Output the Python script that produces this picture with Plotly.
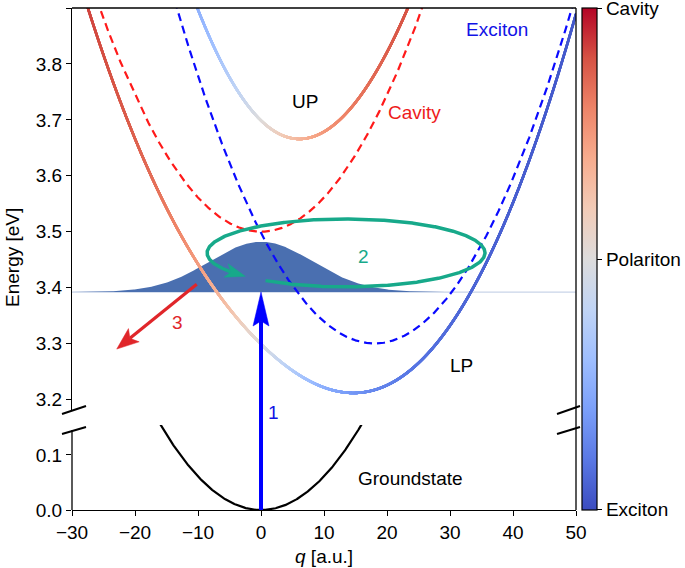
import numpy as np
import plotly.graph_objects as go

# ---------------- data ----------------
Q_MIN, Q_MAX = -30, 50
x_ticks = [-30, -20, -10, 0, 10, 20, 30, 40, 50]
y_up_ticks = [3.2, 3.3, 3.4, 3.5, 3.6, 3.7, 3.8, 3.9]
y_low_ticks = [0.0, 0.1]
Y_UP_MIN, Y_UP_MAX = 3.181, 3.9001
Y_LOW_MAX = 0.1545

# dispersion model parameters
cavity_min_q, cavity_min_E = 0.0, 3.50
exciton_min_q, exciton_min_E = 18.0, 3.30
curvature = 0.00061          # eV per q^2
coupling_g = 0.20            # eV
ground_q_span = [-16, 16]

# wave packet
packet_center, packet_sigma, packet_amp, packet_base = 0.0, 8.2, 0.09, 3.392

# colour bar
cbar_vals = [0, 0.5, 1]
cbar_text = ["Exciton", "Polariton", "Cavity"]

# annotation geometry (data units)
arrow1 = dict(q0=0.0, E0=0.0, q1=0.0, E1=3.392)       # lower -> upper axis
arrow3 = dict(q0=-10.2, E0=3.406, q1=-22.9, E1=3.29)
ellipse = dict(qc=13.5, Ec=3.462, a=22.06, b=0.0608, t0=234.6, t_tip=583.5)

# ---------------- layout constants (pixels) ----------------
W, H = 685, 568
L, R, T, B = 72, 576, 8, 510
UP_BOTTOM, LOW_TOP = 410, 425
FONT = "Liberation Sans, Arial, Helvetica, sans-serif"
FS = 19

def px(xp): return (xp - L) / (R - L)
def py(yp): return (B - yp) / (B - T)
def X(q): return L + (q - Q_MIN) / (Q_MAX - Q_MIN) * (R - L)
def YU(E): return T + (Y_UP_MAX - E) / (Y_UP_MAX - Y_UP_MIN) * (UP_BOTTOM - T)
def YL(E): return B - E / Y_LOW_MAX * (B - LOW_TOP)

CW = [[0.0, "#3b4cc0"], [0.1, "#5a78e4"], [0.2, "#7b9ff9"], [0.3, "#9ebeff"],
      [0.4, "#c0d4f5"], [0.5, "#dddcdc"], [0.6, "#f2cbb7"], [0.7, "#f7ac8e"],
      [0.8, "#ee8468"], [0.9, "#d65244"], [1.0, "#b40426"]]

q = np.linspace(Q_MIN, Q_MAX, 5000)
Ec = cavity_min_E + curvature * (q - cavity_min_q) ** 2
Ex = exciton_min_E + curvature * (q - exciton_min_q) ** 2
mean = (Ec + Ex) / 2
half = np.sqrt(coupling_g ** 2 + ((Ec - Ex) / 2) ** 2)
E_up = mean + half
E_lp = mean - half
delta = Ex - Ec
frac_lp = 0.5 * (1 + delta / np.sqrt(delta ** 2 + 4 * coupling_g ** 2))
frac_up = 1 - frac_lp

fig = go.Figure()
up_kw = dict(xaxis="x", yaxis="y2", hoverinfo="skip", showlegend=False)

# packet base line + filled gaussian
fig.add_trace(go.Scatter(x=[Q_MIN, Q_MAX], y=[packet_base, packet_base], mode="lines",
                         line=dict(color="#c9d4e8", width=1.2), **up_kw))
qp = np.linspace(Q_MIN, 40, 600)
gp = packet_base + packet_amp * np.exp(-(qp - packet_center) ** 2 / (2 * packet_sigma ** 2))
fig.add_trace(go.Scatter(x=np.concatenate([qp, qp[::-1]]),
                         y=np.concatenate([gp, np.full_like(qp, packet_base)]),
                         mode="lines", fill="toself", fillcolor="#4a6fb0",
                         line=dict(width=0), **up_kw))

# bare modes
fig.add_trace(go.Scatter(x=q, y=Ec, mode="lines",
                         line=dict(color="#ff1a1a", width=2.2, dash="8px,5px"), **up_kw))
fig.add_trace(go.Scatter(x=q, y=Ex, mode="lines",
                         line=dict(color="#0a0aff", width=2.2, dash="8px,5px"), **up_kw))

# polariton branches coloured by cavity fraction
for E, fr, show in [(E_up, frac_up, False), (E_lp, frac_lp, True)]:
    m = E <= Y_UP_MAX + 0.01
    mk = dict(size=2.6, color=fr[m], colorscale=CW, cmin=-0.0005, cmax=1.0005,
              line=dict(width=0))
    if show:
        mk.update(showscale=True, colorbar=dict(
            x=px(582), xanchor="left", xpad=0, ypad=0, y=0.5, yanchor="middle",
            len=1, lenmode="fraction", thickness=15, thicknessmode="pixels",
            outlinecolor="black", outlinewidth=1.2, tickvals=cbar_vals, ticktext=cbar_text,
            ticks="outside", ticklen=5, tickwidth=1.2, tickcolor="black",
            ticklabeloverflow="allow",
            tickfont=dict(family=FONT, size=FS, color="black")))
    fig.add_trace(go.Scatter(x=q[m], y=E[m], mode="markers", marker=mk, **up_kw))

# ground state
qg = np.linspace(ground_q_span[0], ground_q_span[1], 300)
fig.add_trace(go.Scatter(x=qg, y=curvature * qg ** 2, mode="lines",
                         line=dict(color="black", width=2.2), xaxis="x", yaxis="y",
                         hoverinfo="skip", showlegend=False))

shapes = []
def seg(x0, y0, x1, y1, color="black", width=1.3):
    shapes.append(dict(type="line", xref="paper", yref="paper", x0=px(x0), y0=py(y0),
                       x1=px(x1), y1=py(y1), line=dict(color=color, width=width)))

def head(tx, ty, ux, uy, color, hl, hw, notch):
    nx, ny = -uy, ux
    bx, by = tx - hl * ux, ty - hl * uy
    mx, my = tx - (hl - notch) * ux, ty - (hl - notch) * uy
    pts = [(tx, ty), (bx + hw * nx, by + hw * ny), (mx, my), (bx - hw * nx, by - hw * ny)]
    path = "M " + " L ".join(f"{px(a):.5f},{py(b):.5f}" for a, b in pts) + " Z"
    shapes.append(dict(type="path", xref="paper", yref="paper", path=path,
                       fillcolor=color, line=dict(color=color, width=0.5)))

def arrow(x0, y0, x1, y1, color, width, hl, hw, notch):
    d = np.hypot(x1 - x0, y1 - y0)
    ux, uy = (x1 - x0) / d, (y1 - y0) / d
    seg(x0, y0, x1 - (hl - notch) * ux, y1 - (hl - notch) * uy, color, width)
    head(x1, y1, ux, uy, color, hl, hw, notch)

# ellipse (process 2)
TEAL = "#17a98a"
tt = np.radians(np.linspace(ellipse["t0"], ellipse["t_tip"], 800))
exq = ellipse["qc"] + ellipse["a"] * np.cos(tt)
exE = ellipse["Ec"] + ellipse["b"] * np.sin(tt)
pxs, pys = np.array([X(v) for v in exq]), np.array([YU(v) for v in exE])
tipx, tipy = pxs[-1], pys[-1]
dist = np.hypot(pxs - tipx, pys - tipy)
HL2, HW2, N2 = 20, 7, 5
cut = np.where(dist > HL2 - N2)[0][-1]
fig.add_trace(go.Scatter(x=exq[:cut + 1], y=exE[:cut + 1], mode="lines",
                         line=dict(color=TEAL, width=3.5), **up_kw))
vx, vy = tipx - pxs[cut], tipy - pys[cut]
vn = np.hypot(vx, vy)
head(tipx, tipy, vx / vn, vy / vn, TEAL, HL2, HW2, N2)

# arrows 1 and 3
arrow(X(arrow1["q0"]), YL(arrow1["E0"]), X(arrow1["q1"]), YU(arrow1["E1"]),
      "#0000ff", 4, 34, 8, 5)
arrow(X(arrow3["q0"]), YU(arrow3["E0"]), X(arrow3["q1"]), YU(arrow3["E1"]),
      "#e0262a", 3.2, 22, 8.5, 5)

# spines and break marks
seg(L, T, R, T)
seg(R, T, R, B)
seg(L, 430, L, B)
for (xa, xb) in [(62, 86), (557, 580)]:
    seg(xa, 414, xb, 406, width=2)
    seg(xa, 434, xb, 427, width=2)

def txt(x, y, s, color="black", xref="x", yref="y2", **kw):
    return dict(x=x, y=y, xref=xref, yref=yref, text=s, showarrow=False,
                xanchor="center", yanchor="middle",
                font=dict(family=FONT, size=FS, color=color), **kw)

annotations = [
    txt(7.0, 3.732, "UP"),
    txt(24.4, 3.714, "Cavity", "#ee1c1c"),
    txt(37.5, 3.862, "Exciton", "#1212e6"),
    txt(31.9, 3.261, "LP"),
    txt(16.3, 3.456, "2", TEAL),
    txt(-13.2, 3.338, "3", "#e0262a"),
    txt(px(273), py(412), "1", "#1212e6", xref="paper", yref="paper"),
    txt(23.7, 0.058, "Groundstate", yref="y"),
    txt(px(12), py(258), "Energy [eV]", xref="paper", yref="paper", textangle=-90),
    txt(px(324), py(556), "<i>q</i> [a.u.]", xref="paper", yref="paper"),
]

axis_common = dict(showgrid=False, zeroline=False, ticks="outside", ticklen=5,
                   tickwidth=1.3, tickcolor="black", linecolor="black", linewidth=1.3,
                   automargin=False,
                   tickfont=dict(family=FONT, size=FS, color="black"))

fig.update_layout(
    width=W, height=H,
    margin=dict(l=L, r=W - R, t=T, b=H - B, pad=0, autoexpand=False),
    paper_bgcolor="white", plot_bgcolor="white",
    font=dict(family=FONT, size=FS, color="black"),
    xaxis=dict(domain=[0, 1], range=[Q_MIN, Q_MAX], tickvals=x_ticks, anchor="y",
               showline=True, **axis_common),
    yaxis=dict(domain=[0, py(LOW_TOP)], range=[0, Y_LOW_MAX], tickvals=y_low_ticks,
               tickformat=".1f", anchor="x", showline=False, **axis_common),
    yaxis2=dict(domain=[py(UP_BOTTOM), 1], range=[Y_UP_MIN, Y_UP_MAX], tickvals=y_up_ticks,
                tickformat=".1f", anchor="x", showline=True, **axis_common),
    shapes=shapes, annotations=annotations, showlegend=False,
)

# remove the browser's default 8px page margin so the figure sits at the window origin
fig.write_html("out.html", config={"displayModeBar": False},
               post_script="document.body.style.margin='0px';document.body.style.overflow='hidden';")
